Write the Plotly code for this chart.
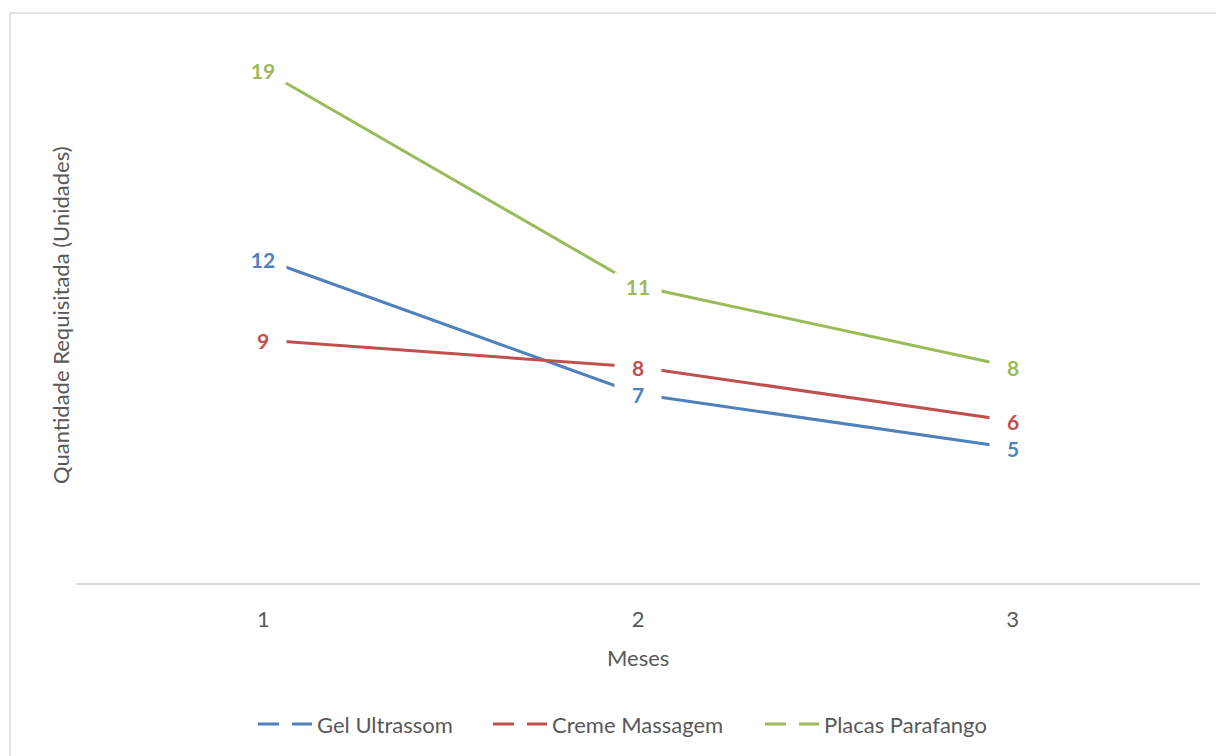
import plotly.graph_objects as go

# Monthly requisitions per product
meses = [1, 2, 3]
series_names = ["Gel Ultrassom", "Creme Massagem", "Placas Parafango"]
gel_ultrassom = [12, 7, 5]
creme_massagem = [9, 8, 6]
placas_parafango = [19, 11, 8]
series_values = [gel_ultrassom, creme_massagem, placas_parafango]
series_colors = ["#4F81BD", "#C0504D", "#9BBB59"]

x_title = "Meses"
y_title = "Quantidade Requisitada (Unidades)"

W, H = 1216, 756
M_L, M_R, M_T, M_B = 76, 16, 43, 173
FONT = "Lato, Carlito, Calibri, sans-serif"
TEXT_GREY = "#595959"
TEXT_SIZE = 22


def px_x(p):
    return (p - M_L) / (W - M_L - M_R)


def px_y(p):
    return (H - M_B - p) / (H - M_T - M_B)


fig = go.Figure()

for name, vals, col in zip(series_names, series_values, series_colors):
    fig.add_trace(go.Scatter(
        x=meses, y=vals, mode="lines", name=name,
        line=dict(color=col, width=3), showlegend=False, hoverinfo="skip",
    ))

annotations = []
# Data labels centred on each point with a white backing box
for vals, col in zip(series_values, series_colors):
    for xv, yv in zip(meses, vals):
        annotations.append(dict(
            x=xv, y=yv, xref="x", yref="y", text=f"<b>{yv}</b>",
            showarrow=False, xanchor="center", yanchor="middle",
            width=46, height=26, bgcolor="white", borderpad=0,
            font=dict(family=FONT, size=21, color=col),
        ))

# Axis titles
annotations.append(dict(
    x=px_x(638), y=px_y(657), xref="paper", yref="paper", text=x_title,
    showarrow=False, xanchor="center", yanchor="middle",
    font=dict(family=FONT, size=TEXT_SIZE, color=TEXT_GREY),
))
annotations.append(dict(
    x=px_x(60), y=px_y(315), xref="paper", yref="paper", text=y_title,
    showarrow=False, xanchor="center", yanchor="middle", textangle=-90,
    font=dict(family=FONT, size=TEXT_SIZE, color=TEXT_GREY),
))

shapes = []
# Chart border
shapes.append(dict(
    type="rect", xref="paper", yref="paper",
    x0=px_x(10), x1=px_x(1240), y0=px_y(13), y1=px_y(780),
    line=dict(color="#D9D9D9", width=1.5), fillcolor="rgba(0,0,0,0)", layer="below",
))

# Legend: two dash segments and a label per series
legend_starts = [258, 493, 765]
legend_y = 724
for name, col, x0 in zip(series_names, series_colors, legend_starts):
    for a, b in ((x0, x0 + 21), (x0 + 34, x0 + 54)):
        shapes.append(dict(
            type="line", xref="paper", yref="paper",
            x0=px_x(a), x1=px_x(b), y0=px_y(legend_y), y1=px_y(legend_y),
            line=dict(color=col, width=3),
        ))
    annotations.append(dict(
        x=px_x(x0 + 57), y=px_y(legend_y), xref="paper", yref="paper", text=name,
        showarrow=False, xanchor="left", yanchor="middle",
        font=dict(family=FONT, size=TEXT_SIZE, color=TEXT_GREY),
    ))

fig.update_layout(
    width=W, height=H,
    margin=dict(l=M_L, r=M_R, t=M_T, b=M_B),
    paper_bgcolor="white", plot_bgcolor="white",
    showlegend=False,
    annotations=annotations, shapes=shapes,
    xaxis=dict(
        range=[0.5, 3.5], tickvals=meses, ticktext=[str(m) for m in meses],
        showgrid=False, zeroline=False, showline=True,
        linecolor="#D9D9D9", linewidth=2, ticks="",
        ticklabelstandoff=16,
        tickfont=dict(family=FONT, size=TEXT_SIZE, color=TEXT_GREY),
    ),
    yaxis=dict(
        range=[0, 20], showgrid=False, zeroline=False, showline=False,
        showticklabels=False, ticks="",
    ),
)

fig.write_html("out.html")
